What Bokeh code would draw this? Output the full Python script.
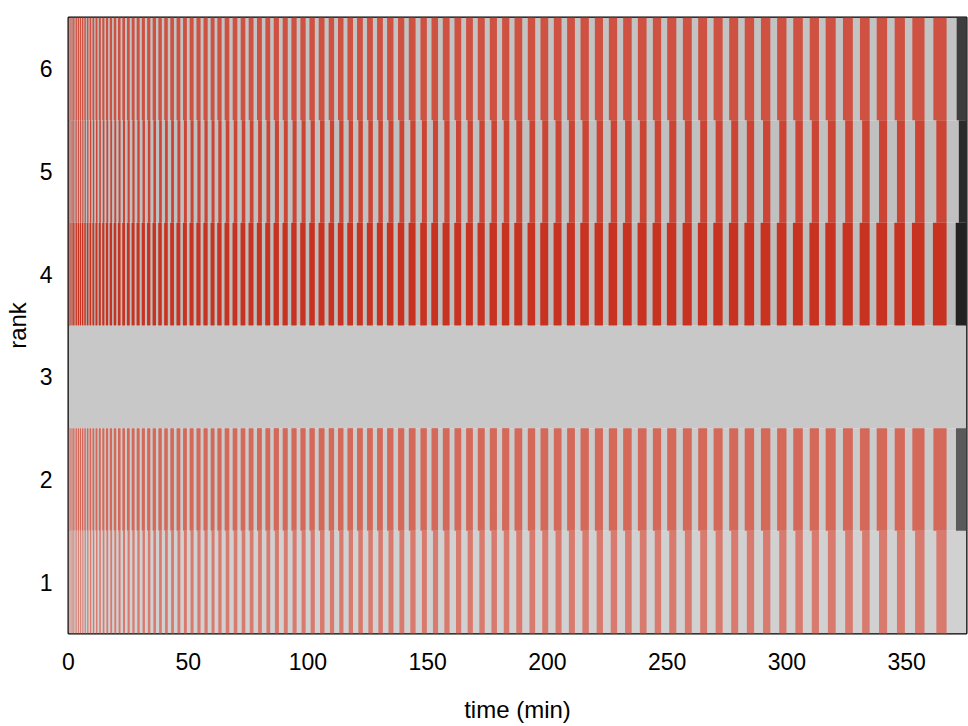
from bokeh.plotting import figure
from bokeh.models import FixedTicker, ColumnDataSource
from bokeh.embed import file_html
from bokeh.resources import INLINE

# ---- data (minutes) ----
iter_start = [0.00, 0.04, 0.16, 0.35, 0.62, 0.98, 1.40, 1.91, 2.50, 3.16, 3.90, 4.72,
              5.62, 6.59, 7.64, 8.78, 9.98, 11.27, 12.64, 14.08, 15.60, 17.20, 18.88,
              20.63, 22.46, 24.38, 26.36, 28.43, 30.58, 32.80, 35.10, 37.48, 39.94,
              42.47, 45.08, 47.78, 50.54, 53.39, 56.32, 59.32, 62.10, 65.15, 68.50,
              71.84, 75.18, 78.65, 82.15, 85.62, 89.38, 93.01, 96.77, 100.53, 104.41,
              108.59, 112.47, 116.40, 120.41, 124.59, 128.77, 132.95, 137.53, 142.01,
              146.89, 151.49, 156.21, 161.09, 165.94, 170.82, 175.83, 180.97, 186.15,
              191.70, 197.00, 202.56, 208.11, 213.71, 219.68, 225.53, 231.50, 237.64,
              243.91, 249.88, 256.44, 262.83, 269.26, 275.78, 282.25, 289.02, 295.79,
              302.51, 309.40, 316.04, 323.27, 330.37, 337.35, 344.86, 352.21, 360.98]
last_iter_end = 370.5
t_end = 375.0

ranks = [1, 2, 3, 4, 5, 6]
busy_start_frac = [0.15, 0.02, None, 0.0, 0.15, 0.02]   # None: rank idle throughout
busy_end_frac = [0.60, 0.60, None, 0.60, 0.60, 0.60]
final_start = [None, 370.6, None, 370.5, 371.8, 370.9]
bar_color = ["#d97a6e", "#d4695a", None, "#c83321", "#cb4434", "#ce5141"]
bg_color = ["#d1d1d1", "#cbcbcb", "#c8c8c8", "#bdbdbd", "#c0c0c0", "#c3c3c3"]
final_color = [None, "#5a5a5a", None, "#222222", "#2b2b2b", "#3d3d3d"]

x_ticks = [0, 50, 100, 150, 200, 250, 300, 350]

FONT = "Liberation Sans"

p = figure(width=968, height=726, x_range=(0, t_end), y_range=(0.5, 6.5),
           output_backend="svg", toolbar_location=None,
           min_border_left=68, min_border_right=2, min_border_top=17,
           min_border_bottom=93)

# row backgrounds
p.quad(left=[0] * 6, right=[t_end] * 6,
       bottom=[r - 0.5 for r in ranks], top=[r + 0.5 for r in ranks],
       fill_color=bg_color, line_color=None)

ends = iter_start[1:] + [last_iter_end]
for i, r in enumerate(ranks):
    if busy_start_frac[i] is None:
        continue
    lefts, rights = [], []
    for s, e in zip(iter_start, ends):
        per = e - s
        lefts.append(s + busy_start_frac[i] * per)
        rights.append(s + busy_end_frac[i] * per)
    src = ColumnDataSource(dict(left=lefts, right=rights,
                                bottom=[r - 0.5] * len(lefts),
                                top=[r + 0.5] * len(lefts)))
    p.quad(left="left", right="right", bottom="bottom", top="top", source=src,
           fill_color=bar_color[i], line_color=None)
    if final_start[i] is not None:
        p.quad(left=[final_start[i]], right=[t_end], bottom=[r - 0.5], top=[r + 0.5],
               fill_color=final_color[i], line_color=None)

p.xgrid.visible = False
p.ygrid.visible = False
p.outline_line_color = "black"
p.outline_line_width = 2
p.background_fill_color = "white"
p.border_fill_color = "white"

p.xaxis.ticker = FixedTicker(ticks=x_ticks)
p.yaxis.ticker = FixedTicker(ticks=ranks)
p.xaxis.axis_label = "time (min)"
p.yaxis.axis_label = "rank"
for ax in (p.xaxis[0], p.yaxis[0]):
    ax.axis_line_color = None
    ax.major_tick_line_color = None
    ax.minor_tick_line_color = None
    ax.major_tick_out = 0
    ax.major_tick_in = 0
    ax.major_label_text_font = FONT
    ax.major_label_text_font_size = "23px"
    ax.major_label_text_color = "black"
    ax.axis_label_text_font = FONT
    ax.axis_label_text_font_size = "24px"
    ax.axis_label_text_font_style = "normal"
    ax.axis_label_text_color = "black"
p.xaxis.major_label_standoff = 19
p.xaxis.axis_label_standoff = 23
p.yaxis.major_label_standoff = 16
p.yaxis.axis_label_standoff = 6
p.yaxis.major_label_orientation = "horizontal"

open("out.html", "w").write(file_html(p, INLINE))
